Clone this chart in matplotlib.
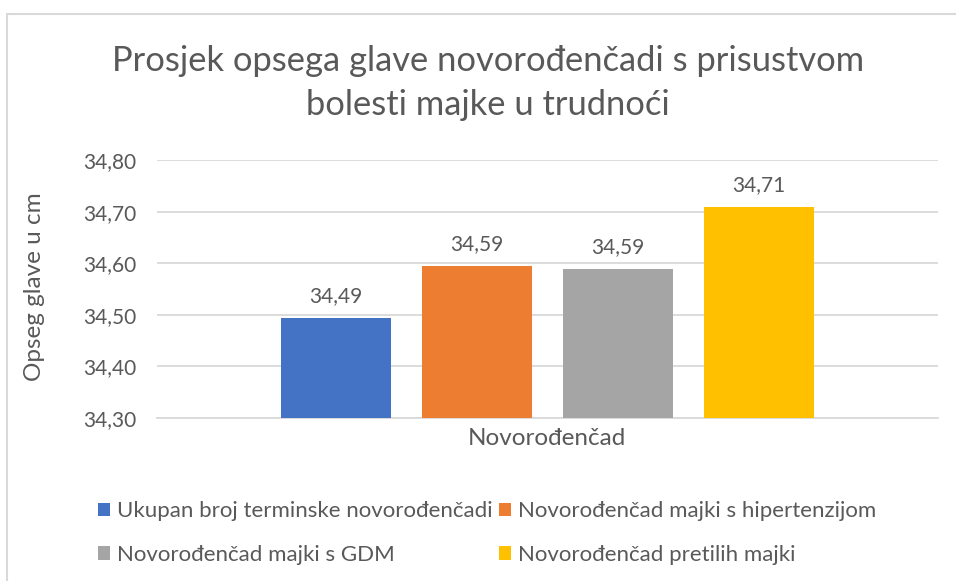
import matplotlib
matplotlib.use("Agg")
import matplotlib.pyplot as plt
from matplotlib.patches import Rectangle
from matplotlib.ticker import FuncFormatter
import numpy as np

TITLE = "Prosjek opsega glave novorođenčadi s prisustvom\nbolesti majke u trudnoći"
CATEGORY = "Novorođenčad"
SERIES = [
    "Ukupan broj terminske novorođenčadi",
    "Novorođenčad majki s hipertenzijom",
    "Novorođenčad majki s GDM",
    "Novorođenčad pretilih majki",
]
VALUES = [34.493, 34.594, 34.588, 34.708]
COLORS = ["#4472C4", "#ED7D31", "#A5A5A5", "#FFC000"]
Y_TICKS = [34.30, 34.40, 34.50, 34.60, 34.70, 34.80]

TEXT = "#595959"
GRID = "#D9D9D9"
plt.rcParams["font.family"] = ["Lato", "DejaVu Sans"]

fig = plt.figure(figsize=(9.56, 5.81), dpi=100)
ax = fig.add_axes([0.164, 0.2806, 0.817, 0.444])

# chart area border (cropped on right and bottom)
fig.patches.append(Rectangle((7 / 956, -0.1), 1.2, 1 - 14 / 581 + 0.1,
                             transform=fig.transFigure, fill=False,
                             edgecolor=GRID, linewidth=1.5))

width = 0.1408
step = 0.1805
offsets = (np.arange(len(VALUES)) - (len(VALUES) - 1) / 2) * step
handles = []
for off, v, c, name in zip(offsets, VALUES, COLORS, SERIES):
    b = ax.bar(off, v - Y_TICKS[0], bottom=Y_TICKS[0], width=width, color=c,
               label=name, zorder=3)
    handles.append(b)
    ax.annotate(f"{v:.2f}".replace(".", ","), (off, v), xytext=(0, 9),
                textcoords="offset points", ha="center", va="bottom",
                fontsize=15, color=TEXT)

ax.set_xlim(-0.5, 0.5)
ax.set_ylim(Y_TICKS[0], Y_TICKS[-1])
ax.set_yticks(Y_TICKS)
ax.yaxis.set_major_formatter(FuncFormatter(lambda v, p: f"{v:.2f}".replace(".", ",")))
ax.set_xticks([])
ax.tick_params(axis="y", length=0, pad=15, labelsize=15, labelcolor=TEXT)
ax.grid(axis="y", color=GRID, linewidth=1.3, zorder=0)
for s in ["left", "right", "top"]:
    ax.spines[s].set_visible(False)
ax.spines["bottom"].set_color(GRID)
ax.spines["bottom"].set_linewidth(1.3)

ax.set_xlabel(CATEGORY, fontsize=17.5, color=TEXT, labelpad=7)
ax.set_ylabel("Opseg glave u cm", fontsize=17.5, color=TEXT)
ax.yaxis.set_label_coords(-0.143, 0.51)

fig.text(488 / 956, 1 - 83 / 581, TITLE, ha="center", va="center", fontsize=24.8,
         color=TEXT, linespacing=1.45)

# Excel fills the legend row by row
order = [0, 2, 1, 3]
fig.legend(handles=[handles[i] for i in order], labels=[SERIES[i] for i in order],
           ncol=2, loc="center", bbox_to_anchor=(487 / 956, 1 - 533 / 581),
           frameon=False, fontsize=16, labelcolor=TEXT, handlelength=0.55,
           handleheight=0.55, handletextpad=0.3, columnspacing=0.3,
           labelspacing=1.05)

fig.savefig("out.png", dpi=100)
